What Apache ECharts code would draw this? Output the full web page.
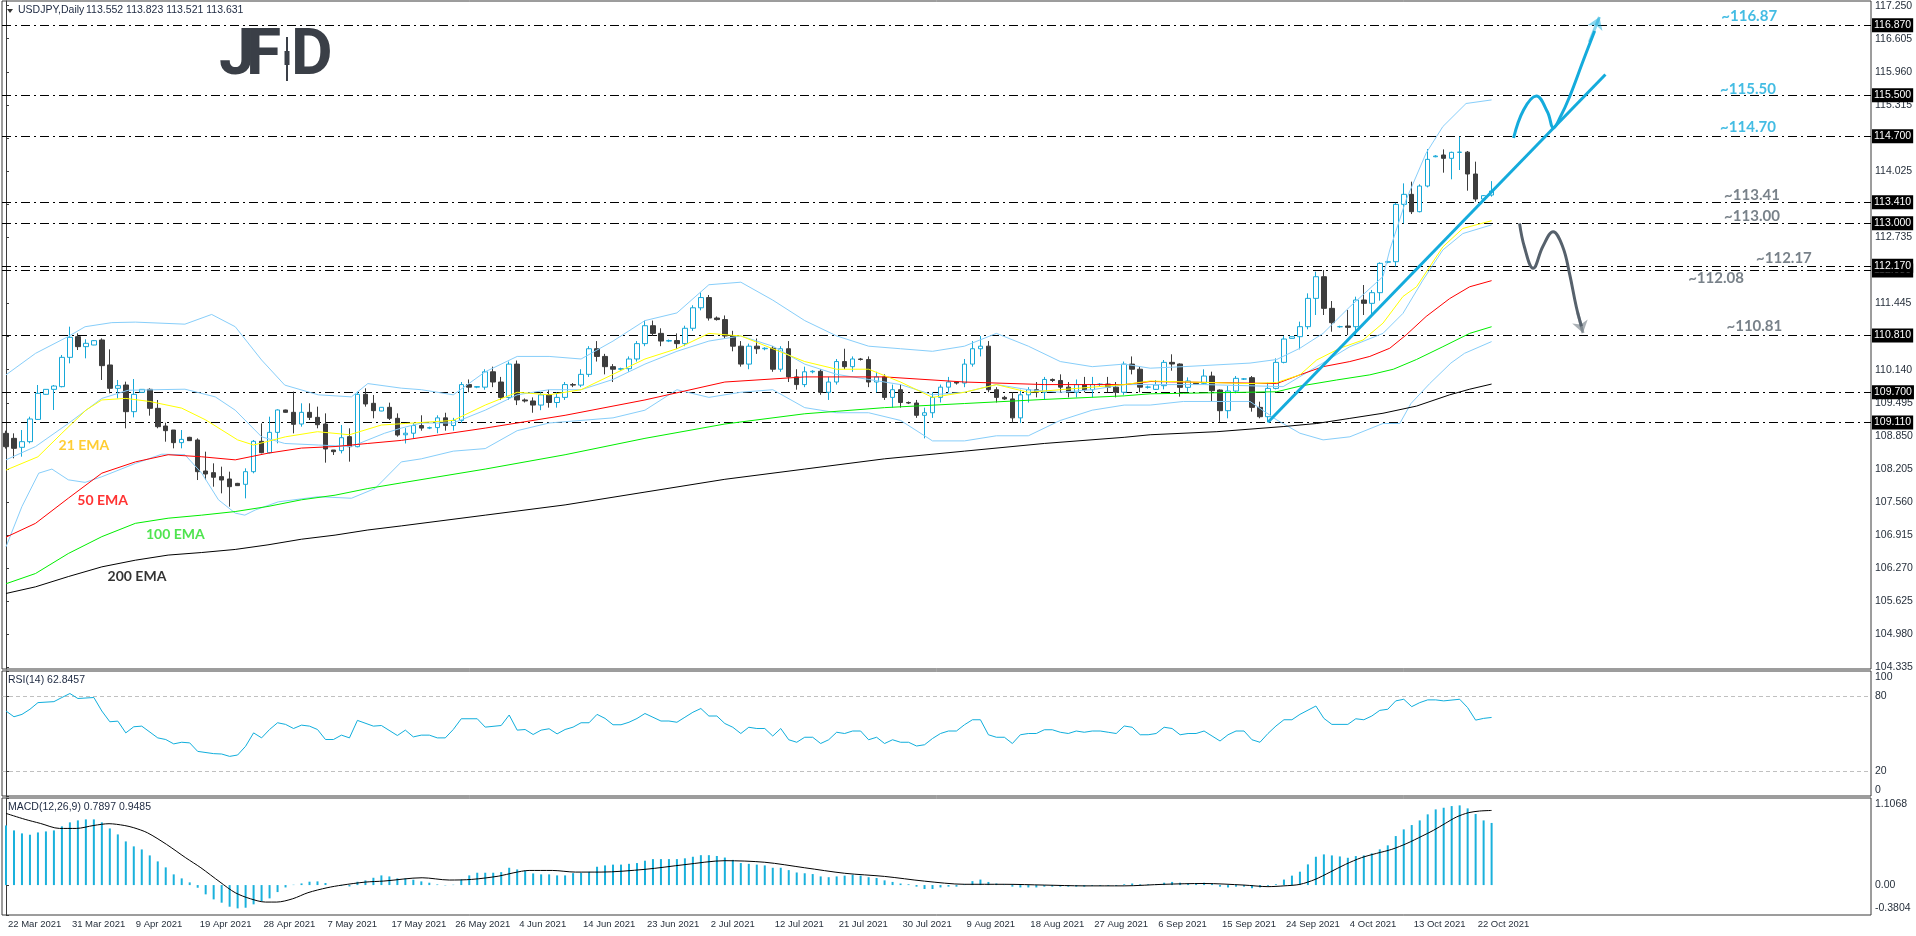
<!DOCTYPE html>
<html>
<head>
<meta charset="utf-8">
<title>USDJPY Daily</title>
<script src="https://cdn.jsdelivr.net/npm/echarts@6/dist/echarts.min.js"></script>
<style>
  html, body { margin: 0; padding: 0; background: #fff; }
  #chart { width: 1916px; height: 936px; }
</style>
</head>
<body>
<div id="chart"></div>
<script>
// bar 0 = 22 Mar 2021, one bar per trading day (broker has Sunday bars), last bar = 25 Oct 2021
const dateLabels = ['22 Mar 2021', '31 Mar 2021', '9 Apr 2021', '19 Apr 2021', '28 Apr 2021', '7 May 2021',
  '17 May 2021', '26 May 2021', '4 Jun 2021', '14 Jun 2021', '23 Jun 2021', '2 Jul 2021', '12 Jul 2021',
  '21 Jul 2021', '30 Jul 2021', '9 Aug 2021', '18 Aug 2021', '27 Aug 2021', '6 Sep 2021', '15 Sep 2021',
  '24 Sep 2021', '4 Oct 2021', '13 Oct 2021', '22 Oct 2021'];
const labelEvery = 8;
const slotCount = 234;

const priceTicks = [104.335, 104.980, 105.625, 106.270, 106.915, 107.560, 108.205, 108.850, 109.495,
  110.140, 110.785, 111.445, 112.090, 112.735, 113.380, 114.025, 114.670, 115.315, 115.960, 116.605, 117.250];
const rsiTicks = [0, 20, 80, 100];
const macdTicks = [-0.3804, 0, 1.1068];

// [open, high, low, close]
const ohlc = [
  [108.898,108.95,108.60,108.637],[108.80,108.898,108.41,108.605],[108.625,108.963,108.442,108.735],
  [108.735,109.223,108.703,109.178],[109.17,109.842,109.158,109.679],[109.66,109.76,109.65,109.757],
  [109.757,109.842,109.354,109.822],[109.81,110.428,109.796,110.382],[110.382,110.981,110.265,110.773],
  [110.786,110.851,110.525,110.591],[110.591,110.734,110.363,110.656],[110.623,110.72,110.62,110.708],
  [110.721,110.753,109.94,110.22],[110.233,110.538,109.679,109.777],[109.777,109.94,109.581,109.829],
  [109.842,109.907,108.996,109.321],[109.321,109.959,109.21,109.66],[109.699,109.76,109.69,109.757],
  [109.757,109.777,109.243,109.386],[109.386,109.549,108.996,109.028],[109.041,109.106,108.735,108.95],
  [108.963,108.963,108.605,108.716],[108.716,108.963,108.605,108.78],[108.82,108.83,108.75,108.755],
  [108.768,108.80,107.986,108.149],[108.162,108.54,107.986,108.104],[108.13,108.312,107.856,108.04],
  [108.052,108.247,107.726,107.986],[108.006,108.149,107.466,107.856],[107.921,107.93,107.87,107.876],
  [107.902,108.214,107.628,108.149],[108.149,108.768,108.117,108.742],[108.742,109.093,108.507,108.52],
  [108.52,109.223,108.507,108.917],[108.917,109.367,108.703,109.354],[109.354,109.36,109.30,109.308],
  [109.308,109.712,108.898,109.074],[109.08,109.484,109.028,109.308],[109.308,109.484,109.158,109.21],
  [109.21,109.419,108.996,109.067],[109.08,109.288,108.325,108.592],[108.572,108.572,108.475,108.54],
  [108.56,109.061,108.507,108.813],[108.833,108.996,108.345,108.637],[108.637,109.712,108.625,109.66],
  [109.66,109.777,109.419,109.471],[109.484,109.647,109.191,109.341],[109.334,109.41,109.33,109.406],
  [109.406,109.497,109.158,109.191],[109.191,109.288,108.833,108.865],
  [108.87,109.00,108.70,108.90],[108.90,109.10,108.80,109.05],[109.05,109.25,108.95,109.00],
  [109.00,109.03,108.98,109.01],[109.01,109.25,108.90,109.20],[109.20,109.30,108.95,109.05],
  [109.05,109.20,108.95,109.15],[109.15,109.90,109.10,109.85],[109.85,109.95,109.70,109.80],
  [109.80,109.82,109.78,109.81],[109.80,110.15,109.75,110.10],[110.10,110.20,109.80,109.90],
  [109.90,110.00,109.55,109.60],[109.60,110.30,109.55,110.25],[110.25,110.32,109.45,109.55],
  [109.55,109.58,109.50,109.53],[109.53,109.60,109.30,109.45],[109.45,109.70,109.35,109.65],
  [109.65,109.75,109.40,109.50],[109.50,109.70,109.40,109.60],[109.60,109.90,109.55,109.85],
  [109.85,109.88,109.80,109.84],[109.84,110.15,109.80,110.05],[110.05,110.60,110.00,110.55],
  [110.55,110.70,110.30,110.40],[110.40,110.45,110.05,110.20],[110.20,110.25,109.90,110.15],
  [110.15,110.18,110.12,110.16],[110.16,110.40,110.10,110.35],[110.35,110.70,110.30,110.65],
  [110.65,111.10,110.60,111.00],[111.00,111.10,110.80,110.85],[110.85,110.95,110.60,110.70],
  [110.70,110.73,110.68,110.71],[110.71,110.85,110.55,110.65],[110.65,111.00,110.60,110.95],
  [110.95,111.40,110.90,111.35],[111.35,111.65,111.30,111.55],[111.55,111.60,111.10,111.15],
  [111.15,111.18,111.10,111.12],[111.12,111.20,110.75,110.80],[110.80,110.90,110.50,110.60],
  [110.60,110.70,110.20,110.25],[110.25,110.65,110.15,110.60],[110.60,110.75,110.45,110.55],
  [110.55,110.58,110.52,110.56],[110.56,110.60,110.10,110.15],[110.15,110.60,110.10,110.55],
  [110.55,110.70,109.90,110.00],[110.00,110.15,109.75,109.85],[109.85,110.20,109.80,110.10],
  [110.10,110.13,110.07,110.11],[110.11,110.15,109.65,109.70],[109.70,110.00,109.55,109.90],
  [109.90,110.35,109.85,110.30],[110.30,110.55,110.15,110.20],[110.20,110.40,110.10,110.35],
  [110.35,110.37,110.32,110.34],[110.34,110.40,109.80,109.90],[109.90,110.10,109.70,110.00],
  [110.00,110.05,109.55,109.60],[109.60,109.85,109.40,109.75],[109.75,109.85,109.40,109.50],
  [109.50,109.52,109.47,109.49],[109.49,109.55,109.20,109.25],[109.25,109.40,108.80,109.30],
  [109.30,109.70,109.20,109.60],[109.60,109.85,109.50,109.80],[109.80,110.00,109.70,109.90],
  [109.90,109.92,109.85,109.88],[109.88,110.35,109.80,110.25],[110.25,110.70,110.20,110.55],
  [110.55,110.80,110.40,110.60],[110.60,110.70,109.70,109.75],[109.75,109.80,109.50,109.60],
  [109.60,109.63,109.55,109.57],[109.57,109.70,109.10,109.20],[109.20,109.75,109.10,109.65],
  [109.65,109.80,109.50,109.75],[109.75,109.90,109.60,109.70],[109.70,110.00,109.55,109.95],
  [109.95,109.97,109.90,109.93],[109.93,110.05,109.70,109.80],[109.80,109.90,109.60,109.70],
  [109.70,109.95,109.60,109.85],[109.85,110.00,109.70,109.75],[109.75,110.00,109.60,109.85],
  [109.85,109.88,109.82,109.86],[109.86,110.00,109.70,109.80],[109.80,109.90,109.60,109.70],
  [109.70,110.30,109.65,110.25],[110.25,110.40,110.05,110.15],[110.15,110.20,109.70,109.80],
  [109.80,109.83,109.77,109.80],
  [109.757,109.939,109.744,109.842],[109.829,110.33,109.757,110.284],[110.284,110.441,110.121,110.252],
  [110.252,110.265,109.614,109.796],[109.796,109.991,109.711,109.92],[109.874,109.88,109.85,109.855],
  [109.874,110.148,109.855,110.017],[110.017,110.102,109.516,109.731],[109.744,109.757,109.112,109.34],
  [109.34,109.822,109.191,109.724],[109.724,110.017,109.679,109.972],[109.959,109.975,109.94,109.96],
  [109.985,110.017,109.321,109.405],[109.405,109.516,109.191,109.223],[109.223,109.887,109.112,109.776],
  [109.776,110.362,109.757,110.284],[110.284,110.799,110.265,110.74],[110.753,110.79,110.75,110.786],
  [110.786,111.079,110.538,110.981],[110.981,111.632,110.929,111.534],[111.534,112.055,111.209,111.957],
  [111.957,112.088,111.209,111.339],[111.339,111.482,110.883,111.059],[110.98,111.00,110.96,110.981],
  [110.994,111.306,110.818,110.968],[110.981,111.567,110.818,111.502],[111.502,111.795,111.209,111.437],
  [111.437,111.697,111.209,111.645],[111.645,112.237,111.489,112.218],[112.24,112.27,112.22,112.25],
  [112.25,113.40,112.153,113.37],[113.37,113.78,112.999,113.566],[113.566,113.813,113.181,113.227],
  [113.227,113.761,113.214,113.728],[113.728,114.451,113.702,114.249],[114.30,114.33,114.29,114.314],
  [114.334,114.444,113.989,114.269],[114.269,114.399,113.859,114.386],[114.386,114.692,114.041,114.39],
  [114.39,114.412,113.637,113.963],[113.963,114.204,113.422,113.474],[113.474,113.55,113.47,113.54],
  [113.552,113.823,113.521,113.631]
];

// indicator lines, read at sampled bars: [bar, value]
const ema21 = [[0,108.18],[4,108.44],[7,108.90],[10,109.35],[12,109.55],[15,109.58],[18,109.52],[22,109.39],[25,109.16],[29,108.77],[31,108.67],[35,108.83],[39,108.93],[43,108.87],[47,109.06],[50,109.09],[56,109.15],[60,109.45],[64,109.70],[68,109.65],[72,109.75],[76,110.05],[80,110.35],[84,110.55],[88,110.85],[92,110.80],[96,110.55],[100,110.30],[104,110.15],[108,110.15],[112,109.90],[116,109.60],[120,109.70],[124,109.85],[128,109.70],[132,109.75],[136,109.80],[140,109.85],[143.25,109.92],[155.75,109.87],[159.1,109.89],[162,110.04],[164.1,110.33],[167,110.56],[169.9,110.72],[172.4,111.05],[174.9,111.57],[176.6,111.76],[178.25,112.15],[179.9,112.54],[182.4,112.90],[186,113.05]];
const ema50 = [[0,106.87],[3.7,107.14],[7.8,107.63],[12,108.12],[16.2,108.34],[20.3,108.48],[24.5,108.44],[28.7,108.38],[32.8,108.51],[37,108.61],[41.2,108.64],[45.3,108.70],[49.5,108.76],[60,109.00],[70,109.25],[80,109.55],[90,109.90],[100,110.00],[110,110.00],[120,109.90],[130,109.85],[140,109.85],[143.25,109.91],[159.1,109.87],[162,110.04],[164.9,110.20],[168.25,110.30],[170.75,110.40],[173.25,110.56],[175.3,110.82],[177.8,111.18],[180.75,111.53],[183.25,111.76],[186,111.88]];
const ema100 = [[0,105.96],[3.7,106.16],[7.8,106.55],[12,106.88],[16.2,107.14],[20.3,107.24],[24.5,107.30],[28.7,107.37],[32.8,107.47],[37,107.60],[41.2,107.69],[45.3,107.82],[49.5,107.93],[60,108.20],[70,108.48],[80,108.80],[90,109.08],[100,109.28],[110,109.40],[120,109.48],[130,109.56],[140,109.63],[143.25,109.67],[147.4,109.68],[159.1,109.71],[162,109.82],[166.6,109.94],[170.75,110.04],[173.7,110.15],[176.6,110.34],[179.9,110.59],[183.25,110.85],[186,110.98]];
const ema200 = [[0,105.77],[3.7,105.90],[7.8,106.10],[12,106.29],[16.2,106.42],[20.3,106.52],[24.5,106.57],[28.7,106.63],[32.8,106.72],[37,106.83],[41.2,106.91],[45.3,107.01],[49.5,107.09],[60,107.30],[70,107.50],[80,107.75],[90,108.00],[100,108.20],[110,108.40],[120,108.55],[130,108.70],[140,108.82],[143.25,108.87],[151.6,108.93],[159.9,109.03],[164.1,109.09],[168.25,109.19],[172.4,109.29],[176.6,109.43],[180.75,109.65],[183.25,109.76],[186,109.86]];
const bbUpper = [[0,110.04],[3.7,110.46],[7.8,110.79],[9.9,110.98],[13.25,111.06],[16.2,111.07],[22.4,111.03],[25.75,111.22],[28.7,110.98],[32,110.33],[34.9,109.84],[39.1,109.65],[43.25,109.61],[45.3,109.87],[49.5,109.78],[52,109.75],[56,109.65],[60,110.10],[64,110.40],[68,110.40],[72,110.35],[76,110.70],[80,111.10],[84,111.25],[88,111.80],[92,111.85],[96,111.50],[100,111.10],[104,110.80],[108,110.60],[112,110.55],[116,110.50],[120,110.60],[124,110.85],[128,110.60],[132,110.30],[136,110.20],[140,110.25],[143.25,110.17],[147.4,110.20],[155.75,110.27],[159.1,110.34],[162,110.56],[164.9,110.85],[168.25,111.37],[172.4,111.96],[173.25,112.48],[175.3,113.46],[177.8,114.37],[179.9,114.89],[182.8,115.34],[186,115.41]];
const bbMid = [[0,108.38],[3.7,108.64],[7.8,109.09],[12,109.58],[15.3,109.74],[22.4,109.76],[26.2,109.61],[28.7,109.35],[32,108.83],[34.9,108.70],[39.1,108.67],[43.25,108.64],[47.4,108.90],[49.5,109.00],[52,109.10],[56,109.10],[60,109.35],[64,109.65],[68,109.75],[72,109.75],[76,109.95],[80,110.25],[84,110.50],[88,110.70],[92,110.80],[96,110.60],[100,110.25],[104,110.05],[108,109.95],[112,109.85],[116,109.65],[120,109.70],[124,109.85],[128,109.75],[132,109.70],[136,109.75],[140,109.85],[150,109.85],[159.9,109.81],[164.1,110.20],[168.25,110.59],[172.4,110.85],[174.9,111.24],[177.4,111.89],[179.9,112.48],[182.4,112.80],[186,112.97]];
const bbLower = [[0,106.68],[2,107.47],[4.1,108.12],[5.75,108.20],[7.8,107.99],[9.9,107.94],[12,108.05],[16.2,108.31],[19.5,108.49],[22.4,108.48],[24.5,108.12],[26.6,107.60],[28.7,107.34],[29.9,107.30],[31.2,107.40],[34.1,107.56],[39.1,107.66],[43.25,107.63],[46.2,107.82],[49.5,108.34],[52,108.40],[56,108.55],[60,108.60],[64,108.95],[68,109.10],[72,109.15],[76,109.20],[80,109.35],[84,109.75],[88,109.60],[92,109.70],[96,109.75],[100,109.40],[104,109.30],[108,109.30],[112,109.15],[116,108.75],[120,108.75],[124,108.85],[128,108.85],[132,109.15],[136,109.35],[140,109.45],[143.25,109.45],[147.4,109.52],[155.75,109.52],[159.1,109.16],[162,108.90],[164.9,108.77],[168.25,108.83],[172.4,109.09],[174.5,109.09],[175.9,109.48],[178.25,109.87],[180.9,110.27],[182.6,110.46],[186,110.69]];

const rsi = [[0,68.0],[1,63.4],[2,65.3],[3,69.4],[4,74.7],[6,75.5],[7,78.8],[8,82.0],[9,78.0],[11,78.8],[12,68.0],[13,59.4],[14,59.9],[15,50.5],[16,55.4],[17,55.9],[19,46.5],[20,45.2],[21,41.7],[22,43.0],[23,42.5],[24,35.7],[26,33.9],[27,33.6],[28,31.7],[29,32.8],[30,39.8],[31,50.5],[32,46.5],[33,53.2],[34,58.6],[35,57.3],[36,54.0],[37,56.7],[38,55.9],[39,53.2],[40,45.2],[41,45.2],[42,48.7],[43,46.5],[44,60.5],[46,55.9],[47,56.4],[49,48.4],[50,52.7],[51,47.3],[52,48.7],[53,48.7],[54,46.5],[55,46.5],[56,53.2],[57,61.8],[59,61.8],[60,55.1],[62,56.4],[63,64.8],[64,52.7],[65,53.2],[66,49.2],[67,52.7],[68,53.8],[69,49.7],[70,53.2],[71,55.1],[72,58.6],[73,58.6],[74,65.3],[75,62.1],
  [76,57],[77,57],[78,59],[79,62],[80,66],[81,63],[82,60],[83,60],[84,59],[85,63],[86,67],[87,70],[88,64],[89,64],[90,58],[91,55],[92,50],[93,55],[94,54],[95,54],[96,48],[97,54],[98,45],[99,43],[100,47],[101,47],[102,42],[103,45],[104,51],[105,50],[106,52],[107,52],[108,45],[109,47],[110,42],[111,45],[112,43],[113,43],[114,40],[115,41],[116,46],[117,50],[118,52],[119,52],[120,57],[121,61],[122,61],[123,49],[124,47],[125,47],[126,42],[127,49],[128,50],[129,50],[130,53],[131,53],[132,51],[133,50],[134,52],[135,51],[136,52],[137,52],[138,51],[139,50],[140,56],[141,55],[142,49],[143,49],[144,50],[145,55],[146,54],[147,49],[148,50],[149,50],[150,52],[151,48],[152,44],[153,49],[154,52],[155,52],[156,45],[157,43],[158,50],[159,56],[160,61],[161,61],
  [162,65.3],[164,72.0],[165,62.1],[166,57.3],[168,57.3],[169,61.8],[170,61.0],[171,64.0],[172,68.5],[173,69.4],[174,76.1],[175,77.4],[176,71.5],[177,74.7],[178,76.9],[179,76.9],[180,76.1],[182,77.4],[183,70.7],[184,60.7],[185,62.1],[186,62.85]];

const macdMain = [0.758,0.695,0.657,0.640,0.669,0.682,0.695,0.746,0.797,0.822,0.835,0.835,0.797,0.720,0.644,0.555,0.492,0.453,0.377,0.301,
  0.225,0.136,0.085,0.034,-0.034,-0.118,-0.182,-0.224,-0.275,-0.296,-0.288,-0.245,-0.203,-0.169,-0.089,-0.030,0.004,0.021,0.043,0.047,
  0.026,0.0,-0.01,-0.017,0.042,0.059,0.093,0.123,0.11,0.085,0.085,0.068,0.047,0.030,0.008,-0.004,0.004,0.072,0.123,0.157,
  0.157,0.157,0.165,0.22,0.199,0.186,0.148,0.136,0.136,0.123,0.123,0.152,0.157,0.169,0.233,
  0.25,0.26,0.26,0.27,0.28,0.31,0.33,0.33,0.33,0.33,0.34,0.36,0.38,0.38,0.37,0.35,0.32,0.28,0.27,0.26,0.25,
  0.22,0.22,0.19,0.16,0.15,0.14,0.11,0.10,0.11,0.12,0.13,0.12,0.10,0.09,0.06,0.04,0.02,0.01,-0.02,-0.05,-0.05,-0.03,-0.02,-0.02,
  0.01,0.05,0.07,0.04,0.02,0.01,-0.02,-0.03,-0.03,-0.03,-0.02,-0.02,-0.02,-0.02,-0.02,-0.02,-0.01,-0.01,-0.01,-0.01,0.01,0.02,0.01,0.01,
  0.01,0.03,0.04,0.03,0.02,0.02,0.03,0.02,-0.02,-0.03,-0.02,-0.02,-0.04,-0.03,-0.01,0.01,0.07,0.12,0.17,
  0.263,0.360,0.390,0.377,0.364,0.347,0.369,0.377,0.403,0.454,0.505,0.623,0.708,0.763,0.822,0.899,0.962,0.983,1.004,1.013,0.975,0.903,0.822,0.7897];
const macdSignal = [[0,0.911],[2.4,0.835],[4.3,0.784],[6.7,0.72],[8.8,0.72],[11,0.758],[12.9,0.78],[14.8,0.758],[16,0.729],[17.7,0.665],[20.1,0.517],[22.5,0.347],[24.4,0.22],[26.8,0.038],[28.7,-0.097],[30.6,-0.174],[32.5,-0.216],[33.9,-0.216],[35.9,-0.174],[37.8,-0.097],[40.2,-0.034],[42.1,0],[45,0.038],[47.3,0.051],[52.1,0.093],[55.5,0.064],[58.3,0.072],[61.7,0.114],[63.6,0.157],[65.5,0.186],[68.4,0.186],[71.3,0.165],[74.5,0.165],[80,0.2],[85,0.26],[90,0.31],[95,0.29],[100,0.22],[105,0.15],[110,0.11],[115,0.05],[120,0.01],[125,0.01],[130,0.0],[135,-0.01],[140,-0.01],[145,0.01],[150,0.02],[155,0.0],[158,-0.02],[160,-0.01],[162,0.009],[163.9,0.072],[165.8,0.166],[167.7,0.263],[169.7,0.348],[171.6,0.403],[173.5,0.454],[175.4,0.53],[177.3,0.623],[178.7,0.695],[180.2,0.784],[181.6,0.865],[183.1,0.92],[184.5,0.941],[186,0.9485]];

const levels = [116.87, 115.50, 114.70, 113.41, 113.00, 112.08, 112.17, 110.81, 109.70, 109.11];
const lastPrice = 113.631;
const rsiLast = 62.8457;
const macdLast = [0.7897, 0.9485];

// analyst drawings: [bar, price]
const trendLine = [[158, 109.113], [200.25, 115.906]];
const upPath = [[188.75,114.666],[190.0,115.213],[191.6,115.486],[193.0,115.174],[193.75,114.861],[194.6,115.076],[195.75,115.467],[197.5,116.19],[198.9,116.756]];
const upArrow = [[198.25,116.539],[199.5,117.03]];
const downPath = [[189.5,112.999],[190.1,112.543],[191.2,112.121],[192.4,112.543],[193.7,112.836],[194.9,112.543],[195.75,112.023],[196.6,111.371],[197.25,110.99]];
const downArrow = [[196.75,111.266],[197.44,110.856]];

const BLUE = '#14abdc';
const SLATE = '#56616c';
const levelNotes = [
  ['~116.87', 218.25, 117.04, BLUE], ['~115.50', 218.1, 115.62, BLUE], ['~114.70', 218.1, 114.88, BLUE],
  ['~113.41', 218.6, 113.55, SLATE], ['~113.00', 218.6, 113.14, SLATE], ['~112.17', 222.6, 112.32, SLATE],
  ['~112.08', 214.1, 111.93, SLATE], ['~110.81', 218.9, 110.99, SLATE]
];
const emaNotes = [
  ['21 EMA', 9.75, 108.67, '#ffc000'], ['50 EMA', 12.1, 107.58, '#ff0000'],
  ['100 EMA', 21.2, 106.93, '#22dd22'], ['200 EMA', 16.4, 106.11, '#000000']
];

const FONT = 'Liberation Sans';
const AXC = '#27303c';
const FRAME = '#3a3a3a';
const slots = Array.from({ length: slotCount }, (_, k) => String(k));
const last = ohlc[ohlc.length - 1];

function line(data, color, xi, yi, width, extra) {
  return Object.assign({
    type: 'line', data: data, xAxisIndex: xi, yAxisIndex: yi,
    symbol: 'none', silent: true, animation: false,
    lineStyle: { color: color, width: width || 1 }, z: 6
  }, extra || {});
}

function notes(list, size) {
  return {
    type: 'scatter', xAxisIndex: 1, yAxisIndex: 0, symbolSize: 0, silent: true, animation: false, z: 10,
    data: list.map(n => ({
      value: [n[1], n[2]],
      label: { show: true, position: 'inside', formatter: n[0], color: n[3],
        fontFamily: 'Lato', fontWeight: 'bold', fontSize: size }
    }))
  };
}

const chart = echarts.init(document.getElementById('chart'));

const sideAxis = (gridIndex, min, max, ticks, fmt, rich) => ({
  type: 'value', gridIndex: gridIndex, position: 'right', min: min, max: max,
  splitLine: { show: false },
  axisLine: { show: true, lineStyle: { color: FRAME } },
  axisTick: { show: true, customValues: ticks, length: 3, lineStyle: { color: FRAME } },
  axisLabel: { customValues: ticks, formatter: fmt, fontSize: 10.5, color: AXC, fontFamily: FONT, margin: 4, rich: rich || {} }
});

const option = {
  backgroundColor: '#ffffff',
  animation: false,
  grid: [
    { left: 2, right: 45, top: 1, height: 668, show: true, borderColor: FRAME, borderWidth: 1 },
    { left: 2, right: 45, top: 671, height: 125, show: true, borderColor: FRAME, borderWidth: 1 },
    { left: 2, right: 45, top: 798, height: 117, show: true, borderColor: FRAME, borderWidth: 1 }
  ],
  xAxis: [
    { type: 'category', gridIndex: 0, data: slots, boundaryGap: true, show: false },
    { type: 'value', gridIndex: 0, min: -0.5, max: slotCount - 0.5, show: false },
    { type: 'value', gridIndex: 1, min: -0.5, max: slotCount - 0.5, show: false },
    {
      type: 'category', gridIndex: 2, data: slots, boundaryGap: true,
      axisLine: { show: false },
      axisTick: {
        alignWithLabel: true, length: 4, lineStyle: { color: FRAME },
        interval: idx => idx % labelEvery === 0 && idx / labelEvery < dateLabels.length
      },
      axisLabel: {
        interval: 0, align: 'left', margin: 4, fontSize: 9.5, color: AXC, fontFamily: FONT, padding: [0, 0, 0, 2],
        formatter: (v, idx) => (idx % labelEvery === 0 ? (dateLabels[idx / labelEvery] || '') : '')
      }
    },
    { type: 'value', gridIndex: 2, min: -0.5, max: slotCount - 0.5, show: false }
  ],
  yAxis: [
    sideAxis(0, 104.295, 117.342, priceTicks, v => v.toFixed(3)),
    sideAxis(1, 0, 100, rsiTicks,
      v => (v === 100 ? '{t|100}' : v === 0 ? '{b|0}' : String(v)),
      { t: { padding: [12, 0, 0, 0] }, b: { padding: [0, 0, 12, 0] } }),
    sideAxis(2, -0.3804, 1.1068, macdTicks,
      v => (v === 1.1068 ? '{t|1.1068}' : v === 0 ? '0.00' : '{b|' + v.toFixed(4) + '}'),
      { t: { padding: [13, 0, 0, 0] }, b: { padding: [0, 0, 13, 0] } })
  ],
  graphic: [
    { type: 'polygon', shape: { points: [[7, 9], [13, 9], [10, 13]] }, style: { fill: '#333' } },
    { type: 'text', left: 18, top: 5, style: { text: 'USDJPY,Daily', font: '10.5px "Liberation Sans"', fill: '#1c2840' } },
    { type: 'text', left: 86, top: 5, style: { text: last.map(v => v.toFixed(3)).join(' '), font: '10.5px "Liberation Sans"', fill: '#1c2840' } },
    { type: 'text', left: 8, top: 675, style: { text: 'RSI(14) ' + rsiLast.toFixed(4), font: '10.5px "Liberation Sans"', fill: '#1c2840' } },
    { type: 'text', left: 8, top: 802, style: { text: 'MACD(12,26,9) ' + macdLast.map(v => v.toFixed(4)).join(' '), font: '10.5px "Liberation Sans"', fill: '#1c2840' } },
    {
      type: 'group', left: 219, top: 26,
      children: [
        { type: 'text', x: 0, y: 0, style: { text: 'J', font: 'bold 64px Roboto', fill: '#3a3f47' } },
        { type: 'text', x: 27, y: 0, style: { text: 'F', font: 'bold 64px Roboto', fill: '#3a3f47' } },
        { type: 'rect', shape: { x: 67, y: 11, width: 2, height: 44 }, style: { fill: '#3a3f47' } },
        { type: 'rect', shape: { x: 65.5, y: 25, width: 5, height: 14 }, style: { fill: '#3a3f47' } },
        { type: 'text', x: 72, y: 0, style: { text: 'D', font: 'bold 64px Roboto', fill: '#3a3f47' } }
      ]
    }
  ],
  series: [
    line(bbUpper, '#87cefa', 1, 0, 1),
    line(bbMid, '#87cefa', 1, 0, 1),
    line(bbLower, '#87cefa', 1, 0, 1),
    line(ema200, '#000000', 1, 0, 1),
    line(ema100, '#00ee00', 1, 0, 1),
    line(ema50, '#ff0000', 1, 0, 1),
    line(ema21, '#ffff00', 1, 0, 1),
    {
      type: 'candlestick', xAxisIndex: 0, yAxisIndex: 0, barWidth: 5, silent: true, animation: false, z: 5,
      data: ohlc.map(([o, h, l, c]) => [o, c, l, h]),
      itemStyle: { color: '#ffffff', color0: '#3d3d3d', borderColor: '#17a8d8', borderColor0: '#3d3d3d', borderWidth: 1 },
      markLine: {
        symbol: 'none', silent: true, animation: false,
        lineStyle: { color: '#000000', width: 1, type: [9, 4, 2, 4] },
        label: {
          show: true, position: 'end', distance: 1, formatter: p => p.value.toFixed(3),
          backgroundColor: '#000000', color: '#ffffff', padding: [2, 2, 1, 2], fontSize: 10.5, fontFamily: FONT
        },
        data: levels.map(v => ({ yAxis: v })).concat([
          { yAxis: lastPrice, lineStyle: { opacity: 0 }, label: { backgroundColor: '#5a5a5a' } }
        ])
      }
    },
    line(trendLine, BLUE, 1, 0, 3, { z: 8 }),
    line(upPath, BLUE, 1, 0, 3, { smooth: 0.4, z: 8 }),
    line(downPath, SLATE, 1, 0, 3, { smooth: 0.4, z: 8 }),
    {
      type: 'lines', coordinateSystem: 'cartesian2d', xAxisIndex: 1, yAxisIndex: 0, polyline: false,
      symbol: ['none', 'arrow'], symbolSize: 12, silent: true, animation: false, z: 8,
      data: [
        { coords: upArrow, lineStyle: { color: BLUE, width: 3 } },
        { coords: downArrow, lineStyle: { color: SLATE, width: 3 } }
      ]
    },
    notes(levelNotes, 15),
    notes(emaNotes, 14),
    Object.assign(line(rsi, '#10aedc', 2, 1, 1), {
      markLine: {
        symbol: 'none', silent: true, label: { show: false },
        lineStyle: { color: '#c0c0c0', width: 1, type: [4, 3] },
        data: [{ yAxis: 80 }, { yAxis: 20 }]
      }
    }),
    {
      type: 'bar', xAxisIndex: 3, yAxisIndex: 2, data: macdMain, barWidth: 2, silent: true, animation: false,
      itemStyle: { color: '#1ab1dc' }
    },
    line(macdSignal, '#000000', 4, 2, 1, { smooth: 0.3 })
  ]
};

chart.setOption(option);
</script>
</body>
</html>
